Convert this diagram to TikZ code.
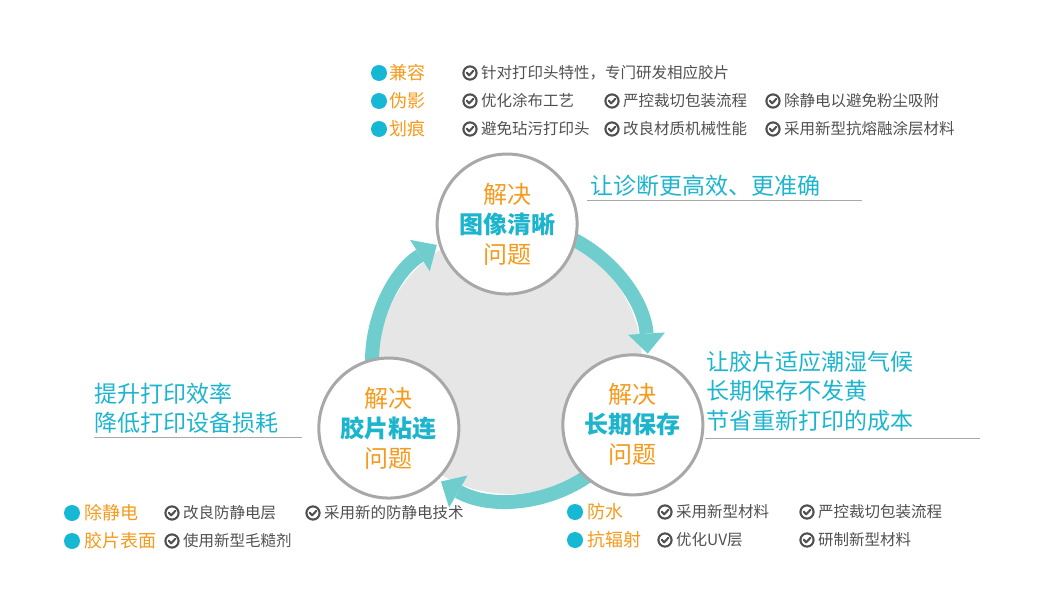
\documentclass[tikz,border=0pt]{standalone}
\usepackage{fontspec}
\setmainfont{Noto Sans CJK SC}
\usepackage{tikz}
\usetikzlibrary{arrows.meta, positioning}
\usepackage{xcolor}
\definecolor{arrowteal}{HTML}{6FCECD}
\definecolor{bulletcyan}{HTML}{17B8D3}
\definecolor{notecyan}{HTML}{1DB4CE}
\definecolor{tagorange}{HTML}{F59A1C}
\definecolor{rimgray}{HTML}{A8A8A8}
\definecolor{discgray}{HTML}{E6E6E6}
\definecolor{itemgray}{HTML}{505050}

\tikzset{
  okmark/.pic={
    \draw[itemgray, line width=2.1pt] (0,0) circle[radius=6.6];
    \draw[itemgray, line width=2.1pt, line cap=round, line join=round]
      (-3.2,0.3) -- (-0.9,-2.3) -- (3.3,2.1);
  }
}

\begin{document}
\begin{tikzpicture}[x=1pt, y=1pt,
    stage/.style={circle, draw=rimgray, line width=3pt, fill=white,
      minimum size=140pt, inner sep=0pt, align=center,
      font=\fontsize{24}{30}\selectfont, text=tagorange},
    cycle arrow/.style={draw=arrowteal, line width=14pt,
      -{Triangle[width=37pt, length=20pt, line width=0pt]}},
    dot/.style={circle, fill=bulletcyan, minimum size=16pt, inner sep=0pt},
    tag/.style={anchor=west, inner sep=0pt, text=tagorange,
      font=\fontsize{18}{20}\selectfont},
    checkitem/.style={anchor=west, inner sep=0pt, text=itemgray,
      font=\fontsize{15.5}{18}\selectfont},
    note/.style={anchor=west, inner sep=0pt, text=notecyan, align=left,
      font=\fontsize{23}{29.5}\selectfont},
    rule/.style={draw=rimgray, line width=0.9pt}]

  \useasboundingbox (0,0) rectangle (1047,-610);

  % Define the key coordinates
  % (centre of the cycle and its radius)
  \coordinate (C) at (510,-362);
  \def\R{138}

  % Draw the gray disc and the three cycle arrows
  \fill[discgray] (C) circle[radius=132];
  \draw[cycle arrow] ([shift={(66:\R)}]C) arc[start angle=66, end angle=3.5, radius=\R];
  \draw[cycle arrow] ([shift={(-52:\R)}]C) arc[start angle=-52, end angle=-120, radius=\R];
  \draw[cycle arrow] ([shift={(184:\R)}]C) arc[start angle=184, end angle=122, radius=\R];

  % Draw the three circles
  \node[stage] (clear) at ([shift={(91.2:\R)}]C)
    {解决\\\textbf{\color{notecyan}图像清晰}\\问题};
  \node[stage] (keep) at ([shift={(-27.1:\R)}]C)
    {解决\\\textbf{\color{notecyan}长期保存}\\问题};
  \node[stage] (stick) at ([shift={(208.6:\R)}]C)
    {解决\\\textbf{\color{notecyan}胶片粘连}\\问题};

  % Add the notes and their rules
  \node[note] (clearnote) at (590,-186) {让诊断更高效、更准确};
  \coordinate (clearL) at (587,-200);
  \coordinate (clearR) at (862,-200);
  \draw[rule] (clearL) -- (clearR);

  \node[note] (keepnote) at (706,-391) {让胶片适应潮湿气候\\长期保存不发黄\\节省重新打印的成本};
  \coordinate (keepL) at (705,-438);
  \coordinate (keepR) at (980,-438);
  \draw[rule] (keepL) -- (keepR);

  \node[note] (sticknote) at (94,-408) {提升打印效率\\降低打印设备损耗};
  \coordinate (stickL) at (94,-437);
  \coordinate (stickR) at (302,-437);
  \draw[rule] (stickL) -- (stickR);

  % Add the top list (image problems)
  \node[dot] (d1) at (379,-73) {};
  \node[dot] (d2) at (379,-101) {};
  \node[dot] (d3) at (379,-129) {};
  \node[tag] (compat) at (389,-73) {兼容};
  \node[tag] (artifact) at (389,-101) {伪影};
  \node[tag] (scratch) at (389,-129) {划痕};

  \node[checkitem] (t11) at (481,-73) {针对打印头特性，专门研发相应胶片};
  \node[checkitem] (t21) at (481,-101) {优化涂布工艺};
  \node[checkitem] (t22) at (623,-101) {严控裁切包装流程};
  \node[checkitem] (t23) at (784,-101) {除静电以避免粉尘吸附};
  \node[checkitem] (t31) at (481,-129) {避免玷污打印头};
  \node[checkitem] (t32) at (623,-129) {改良材质机械性能};
  \node[checkitem] (t33) at (784,-129) {采用新型抗熔融涂层材料};

  % Add the bottom left list (sticking problems)
  \node[dot] (d4) at (72,-513) {};
  \node[dot] (d5) at (72,-541) {};
  \node[tag] (static) at (84,-513) {除静电};
  \node[tag] (surface) at (84,-541) {胶片表面};

  \node[checkitem] (s11) at (183,-513) {改良防静电层};
  \node[checkitem] (s12) at (324,-513) {采用新的防静电技术};
  \node[checkitem] (s21) at (183,-541) {使用新型毛糙剂};

  % Add the bottom right list (storage problems)
  \node[dot] (d6) at (575,-512) {};
  \node[dot] (d7) at (575,-540) {};
  \node[tag] (water) at (587,-512) {防水};
  \node[tag] (radiation) at (587,-540) {抗辐射};

  \node[checkitem] (k11) at (676,-512) {采用新型材料};
  \node[checkitem] (k12) at (818,-512) {严控裁切包装流程};
  \node[checkitem] (k21) at (676,-540) {优化UV层};
  \node[checkitem] (k22) at (818,-540) {研制新型材料};

  % Add the check marks in front of every item
  \foreach \t in {t11,t21,t22,t23,t31,t32,t33,s11,s12,s21,k11,k12,k21,k22}
    \pic at ([xshift=-11pt]\t.west) {okmark};

\end{tikzpicture}
\end{document}
